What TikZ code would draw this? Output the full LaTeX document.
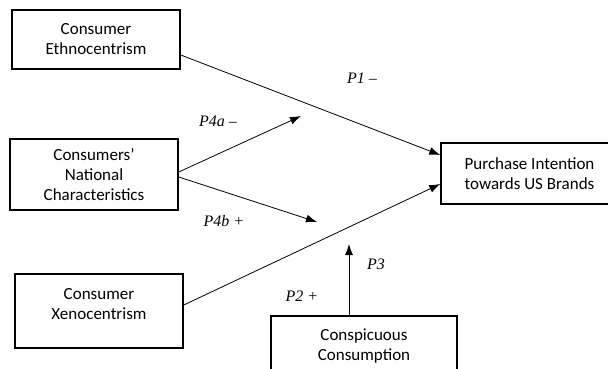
\documentclass[tikz,border=0pt]{standalone}
\usepackage{fontspec}
\setmainfont{Carlito}
\newfontfamily\labelfont{Liberation Serif}
\usetikzlibrary{arrows.meta}

\begin{document}
\begin{tikzpicture}[x=1pt, y=-1pt,
		box/.style={draw, line width=1.5pt, align=center, inner sep=0pt,
			font=\fontsize{17}{20}\selectfont},
		link/.style={line width=0.8pt, -{Latex[length=11pt,width=8pt]}},
		plabel/.style={font=\labelfont\itshape\fontsize{16}{18}\selectfont}]
	\clip (0,0) rectangle (608,369);
	
	%Antecedents
	\node[box, minimum width=168pt, minimum height=59pt] (ethno) at (96,39.5) {Consumer\\Ethnocentrism};
	\node[box, minimum width=168pt, minimum height=71pt] (nation) at (94,174.5) {Consumers'\\National\\Characteristics};
	\node[box, minimum width=168pt, minimum height=74pt, text height=32pt, text depth=16pt] (xeno) at (99,311) {Consumer\\Xenocentrism};
	
	%Outcome and moderator
	\node[box, minimum width=177pt, minimum height=61pt] (intent) at (529.5,173.5) {Purchase Intention\\towards US Brands};
	\node[box, minimum width=186pt, minimum height=60pt] (consp) at (364,346) {Conspicuous\\Consumption};
	
	%Free ends
	\coordinate (tipa) at (301,116);
	\coordinate (tipb) at (317,222);
	\coordinate (tipc) at (349,244);
	
	%Lines
	\draw[link] ([yshift=-15.5pt]ethno.east) -- ([yshift=18.5pt]intent.west);
	\draw[link] ([yshift=2.5pt]nation.east) -- (tipa);
	\draw[link] ([yshift=-2.5pt]nation.east) -- (tipb);
	\draw[link] ([yshift=6pt]xeno.east) -- ([yshift=-10.5pt]intent.west);
	\draw[link] ([xshift=-15pt]consp.north) -- (tipc);
	
	%Labels
	\node[plabel] (p1) at (362,78) {P1 –};
	\node[plabel] (p4a) at (218,121) {P4a –};
	\node[plabel] (p4b) at (224,221) {P4b +};
	\node[plabel] (p2) at (302,296) {P2 +};
	\node[plabel] (p3) at (376,264) {P3};
\end{tikzpicture}
\end{document}
